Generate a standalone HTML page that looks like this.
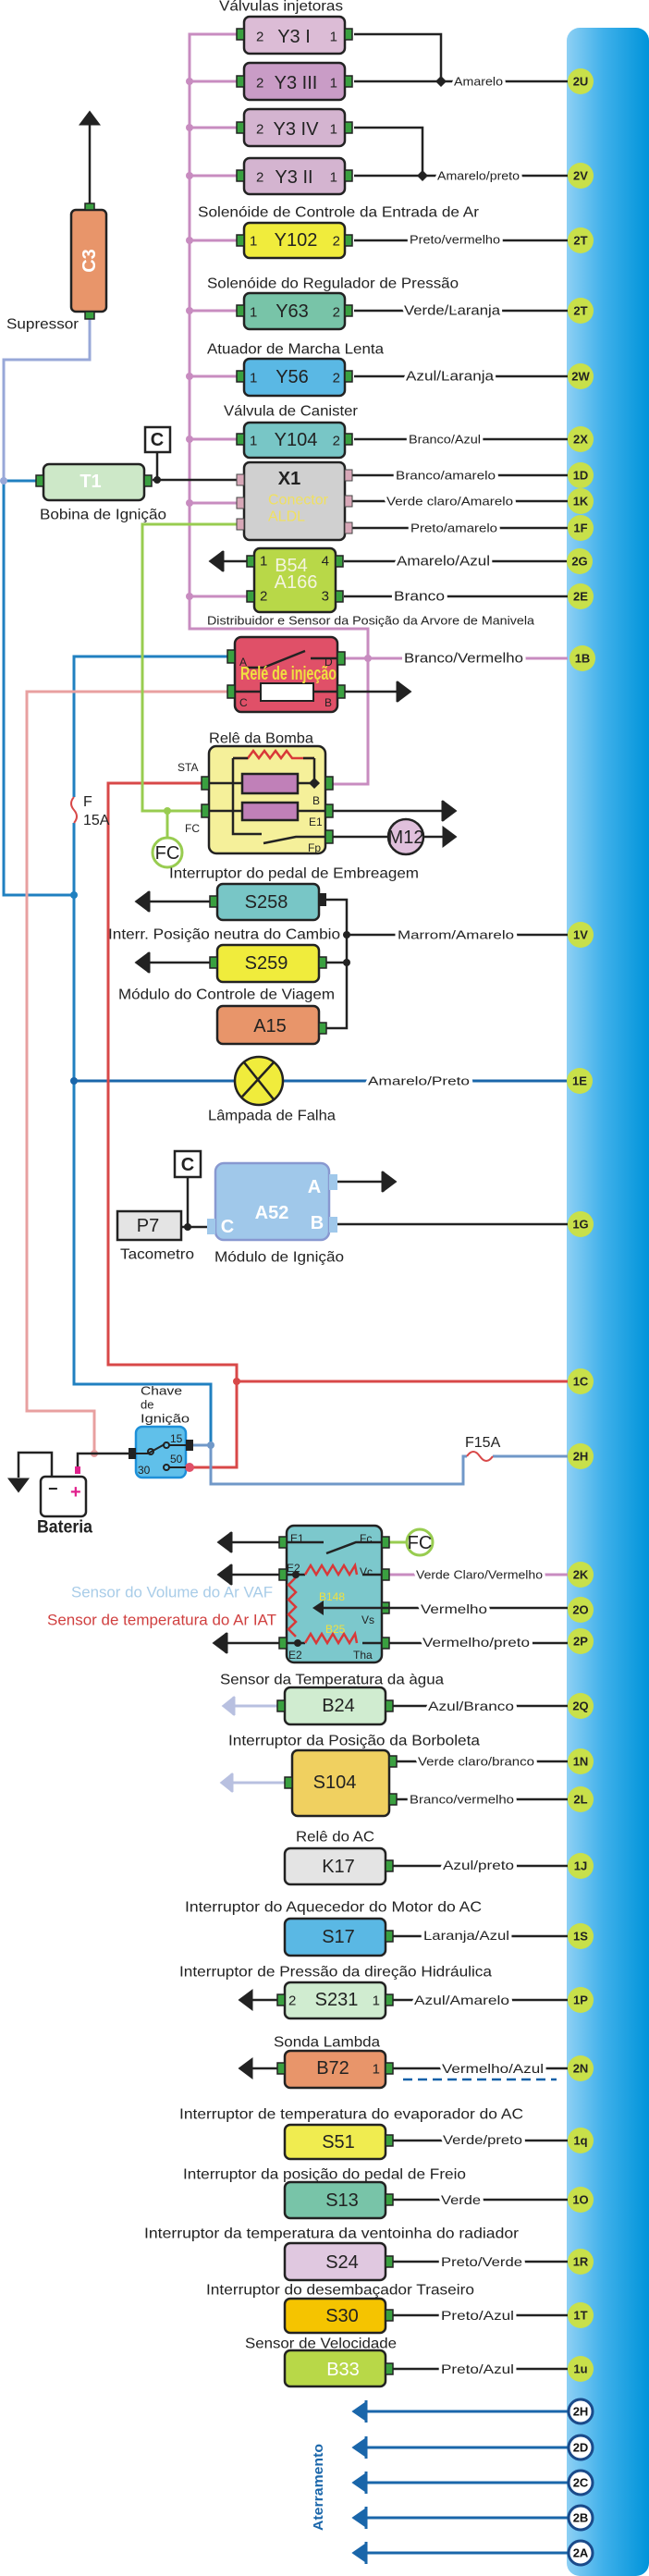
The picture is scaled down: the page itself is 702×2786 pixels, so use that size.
<!DOCTYPE html>
<html><head><meta charset="utf-8"><style>
html,body{margin:0;padding:0;background:#fff}
svg{display:block}
text{font-family:"Liberation Sans",sans-serif;fill:#222}
.t{font-size:16px}
.w{font-size:13px;stroke:#fff;stroke-width:6px;paint-order:stroke;stroke-linejoin:round}
.bx{font-size:20px;text-anchor:middle;dominant-baseline:central}
.bd{font-size:13px;font-weight:bold;text-anchor:middle;dominant-baseline:central;fill:#333}
.pn{font-size:15px;dominant-baseline:central}
.s{font-size:12px;dominant-baseline:central}
</style></head><body>
<svg width="702" height="2786" viewBox="0 0 702 2786" xmlns="http://www.w3.org/2000/svg">
<defs>
<linearGradient id="bar" x1="0" x2="1" y1="0" y2="0">
<stop offset="0" stop-color="#8ed0f4"/><stop offset="0.45" stop-color="#3fb0ea"/><stop offset="1" stop-color="#0094da"/>
</linearGradient>
</defs>
<rect x="613" y="30" width="89" height="2756" rx="14" fill="url(#bar)"/>

<!-- pink bus -->
<g stroke="#c88cc0" stroke-width="3" fill="none">
<path d="M256,37 H205 V680 H398 V848 H360"/>
<path d="M205,88 H256 M205,138 H256 M205,190 H256 M205,260 H256 M205,336 H256 M205,407 H256 M205,475 H256 M205,544 H256 M205,645 H267"/>
<path d="M373,712 H614"/>
<path d="M421,1703 H614"/>
</g>
<g fill="#c88cc0"><circle cx="205" cy="88" r="4"/><circle cx="205" cy="138" r="4"/><circle cx="205" cy="190" r="4"/><circle cx="205" cy="260" r="4"/><circle cx="205" cy="336" r="4"/><circle cx="205" cy="407" r="4"/><circle cx="205" cy="475" r="4"/><circle cx="205" cy="544" r="4"/><circle cx="205" cy="645" r="4"/><circle cx="398" cy="712" r="4"/></g>

<!-- left wiring -->
<g fill="none" stroke-width="3">
<path d="M97,345 V389 H4 V520" stroke="#98a8d8"/>
<path d="M4,520 H39 M4,520 V968 H80" stroke="#2080c0"/>
<path d="M254,710 H80 V1497 H228 V1563" stroke="#2080c0"/>
<path d="M80,1169 H614" stroke="#1a66aa"/>
<path d="M254,748 H29 V1526 H102 V1572" stroke="#e8a0a0"/>
<path d="M226,847 H117 V1476 H256 V1587 H205 M256,1494 H614" stroke="#d84848"/>
<path d="M264,567 H154 V877 H226 M181,877 V906" stroke="#98cc50"/>
<path d="M201,1563 H228 V1605 H501 V1575 H505 M533,1575 H614" stroke="#7098c8"/>
</g>
<rect x="74" y="862" width="12" height="28" fill="#fff"/>
<path d="M80,862 q-6,7 0,14 q6,7 0,14" stroke="#d84848" stroke-width="2" fill="none"/>
<text x="90" y="872" class="t" font-size="15">F</text><text x="90" y="892" class="t" font-size="15">15A</text>
<circle cx="4" cy="520" r="4" fill="#98a8d8"/>
<circle cx="80" cy="968" r="4" fill="#2080c0"/><circle cx="80" cy="1169" r="4" fill="#1a66aa"/>
<circle cx="256" cy="1494" r="4" fill="#d84848"/><circle cx="102" cy="1572" r="4" fill="#e8a0a0"/>
<circle cx="228" cy="1563" r="4" fill="#7098c8"/><circle cx="181" cy="877" r="4" fill="#98cc50"/>
<path d="M505,1575 q7,-10 14,0 q7,10 14,0" stroke="#d84848" stroke-width="2" fill="none"/>
<text x="503" y="1565" class="t" font-size="15">F15A</text>

<!-- black right wires -->
<g stroke="#222" stroke-width="2.5" fill="none">
<path d="M383,37 H477 V88 M383,88 H614"/>
<path d="M383,138 H457 V190 M383,190 H614"/>
<path d="M383,260 H614 M383,336 H614 M383,407 H614 M383,475 H614"/>
<path d="M381,514 H614 M381,542 H614 M381,571 H614"/>
<path d="M372,607 H614 M372,645 H614 M267,607 H240"/>
<path d="M165,519 H257 M170,489 V519"/>
<path d="M373,748 H430 M360,877 H480 M360,905 H420 M458,905 H480"/>
<path d="M227,975 H160 M227,1041 H160 M353,973 H375 V1112 H353 M353,1041 H375 M375,1011 H614"/>
<path d="M365,1278 H415 M365,1324 H614 M203,1273 V1327 M196,1327 H224"/>
<path d="M139,1572 H84 V1592 M56,1597 V1571 H20 V1598"/>
<path d="M302,1668 H250 M302,1703 H250 M302,1777 H245 M421,1739 H614 M421,1777 H614"/>
<path d="M425,1845 H614 M429,1905 H614 M429,1946 H614 M425,2018 H614 M425,2094 H614 M425,2163 H614 M300,2163 H272 M425,2237 H614 M300,2237 H272"/>
<path d="M425,2315 H614 M425,2379 H614 M425,2446 H614 M425,2504 H614 M425,2562 H614"/>
<path d="M97,220 V132"/>
</g>
<path d="M436,2249 H602" stroke="#1060a8" stroke-width="2.5" stroke-dasharray="10 6"/>
<path d="M421,1668 H440" stroke="#98cc50" stroke-width="3"/>
<g fill="#222"><path d="M477,82 l6,6 -6,6 -6,-6z"/><path d="M457,184 l6,6 -6,6 -6,-6z"/><circle cx="170" cy="519" r="4"/><circle cx="375" cy="1011" r="4"/><circle cx="375" cy="1041" r="4"/><circle cx="203" cy="1327" r="4"/></g>

<!-- ground arrows -->
<g fill="#222" stroke="#222" stroke-width="3">
<polygon points="228,607 240,598 240,616"/><line x1="241" y1="596" x2="241" y2="618"/>
<polygon points="443,748 431,739 431,757"/><line x1="430" y1="737" x2="430" y2="759"/>
<polygon points="492,877 480,868 480,886"/><line x1="479" y1="866" x2="479" y2="888"/>
<polygon points="492,905 480,896 480,914"/>
<polygon points="148,975 160,966 160,984"/><line x1="161" y1="964" x2="161" y2="986"/>
<polygon points="148,1041 160,1032 160,1050"/><line x1="161" y1="1030" x2="161" y2="1052"/>
<polygon points="427,1278 415,1269 415,1287"/><line x1="414" y1="1267" x2="414" y2="1289"/>
<polygon points="20,1612 11,1600 29,1600"/>
<polygon points="237,1668 249,1659 249,1677"/><line x1="250" y1="1657" x2="250" y2="1679"/>
<polygon points="237,1703 249,1694 249,1712"/><line x1="250" y1="1692" x2="250" y2="1714"/>
<polygon points="232,1777 244,1768 244,1786"/><line x1="245" y1="1766" x2="245" y2="1788"/>
<polygon points="260,2163 272,2154 272,2172"/><polygon points="260,2237 272,2228 272,2246"/>
<polygon points="97,122 88,134 106,134"/>
</g>
<g fill="#b8c0e0" stroke="#b8c0e0" stroke-width="3">
<line x1="300" y1="1845" x2="250" y2="1845"/><polygon points="242,1845 252,1837 252,1853"/><line x1="253" y1="1835" x2="253" y2="1855"/>
<line x1="308" y1="1928" x2="248" y2="1928"/><polygon points="240,1928 250,1920 250,1936"/><line x1="251" y1="1918" x2="251" y2="1938"/>
</g>

<!-- ground lines bottom -->
<g stroke="#1a66aa" stroke-width="3" fill="#1a66aa">
<line x1="395" y1="2608" x2="614" y2="2608"/><polygon points="383,2608 396,2599 396,2617"/><line x1="396" y1="2596" x2="396" y2="2620"/>
<line x1="395" y1="2647" x2="614" y2="2647"/><polygon points="383,2647 396,2638 396,2656"/><line x1="396" y1="2635" x2="396" y2="2659"/>
<line x1="395" y1="2685" x2="614" y2="2685"/><polygon points="383,2685 396,2676 396,2694"/><line x1="396" y1="2673" x2="396" y2="2697"/>
<line x1="395" y1="2723" x2="614" y2="2723"/><polygon points="383,2723 396,2714 396,2732"/><line x1="396" y1="2711" x2="396" y2="2735"/>
<line x1="395" y1="2761" x2="614" y2="2761"/><polygon points="383,2761 396,2752 396,2770"/><line x1="396" y1="2749" x2="396" y2="2773"/>
</g>
<text transform="translate(349,2690) rotate(-90)" text-anchor="middle" font-size="15" font-weight="bold" style="fill:#1a66aa" textLength="94" lengthAdjust="spacingAndGlyphs">Aterramento</text>

<!-- boxes -->
<g stroke="#222" stroke-width="2.5">
<rect x="264" y="18" width="109" height="40" rx="6" fill="#dcbcd6"/>
<rect x="264" y="68" width="109" height="40" rx="6" fill="#c99cc6"/>
<rect x="264" y="118" width="109" height="40" rx="6" fill="#d4b4d0"/>
<rect x="264" y="171" width="109" height="39" rx="6" fill="#d4b4d0"/>
<rect x="264" y="241" width="109" height="38" rx="6" fill="#f0ec3c"/>
<rect x="264" y="317" width="109" height="39" rx="6" fill="#78c4a8"/>
<rect x="264" y="388" width="109" height="40" rx="6" fill="#5ab8e4"/>
<rect x="264" y="457" width="109" height="38" rx="6" fill="#78c6c6"/>
<rect x="77" y="227" width="38" height="110" rx="5" fill="#e8956a"/>
<rect x="47" y="502" width="109" height="39" rx="6" fill="#cde8c8"/>
<rect x="157" y="462" width="27" height="27" fill="#fff"/>
<rect x="264" y="500" width="109" height="84" rx="6" fill="#d0d0d0"/>
<rect x="275" y="593" width="88" height="69" rx="6" fill="#b8d848"/>
<rect x="254" y="689" width="111" height="81" rx="7" fill="#e05068"/>
<rect x="226" y="807" width="126" height="116" rx="8" fill="#f5f09a"/>
<circle cx="439" cy="905" r="19" fill="#e0c0dc"/>
<rect x="235" y="956" width="110" height="39" rx="6" fill="#78c6c6"/>
<rect x="235" y="1022" width="110" height="40" rx="6" fill="#f0ec3c"/>
<rect x="235" y="1088" width="110" height="41" rx="6" fill="#e8956a"/>
<ellipse cx="280" cy="1169" rx="26" ry="26" fill="#f0ec3c"/>
<rect x="189" y="1245" width="28" height="28" fill="#fff"/>
<rect x="127" y="1310" width="69" height="31" fill="#e4e4e4"/>
<rect x="44" y="1597" width="49" height="43" rx="5" fill="#fff"/>
<rect x="310" y="1650" width="103" height="148" rx="8" fill="#7cc8cc"/>
<rect x="308" y="1825" width="109" height="40" rx="6" fill="#d0ecd0"/>
<rect x="316" y="1893" width="105" height="71" rx="6" fill="#f0d060"/>
<rect x="308" y="1999" width="109" height="39" rx="6" fill="#e4e4e4"/>
<rect x="308" y="2075" width="109" height="40" rx="6" fill="#5ab8e4"/>
<rect x="308" y="2144" width="109" height="39" rx="6" fill="#d0ecd0"/>
<rect x="308" y="2218" width="109" height="40" rx="6" fill="#e8956a"/>
<rect x="308" y="2298" width="109" height="37" rx="6" fill="#f0ec50"/>
<rect x="308" y="2360" width="109" height="39" rx="6" fill="#78c4a8"/>
<rect x="308" y="2426" width="109" height="40" rx="6" fill="#e0c8e0"/>
<rect x="308" y="2486" width="109" height="37" rx="6" fill="#f5c400"/>
<rect x="308" y="2542" width="109" height="39" rx="6" fill="#b8d848"/>
</g>
<rect x="233" y="1258" width="123" height="83" rx="9" fill="#a0c8ea" stroke="#8898d0" stroke-width="2.5"/>
<g fill="#a0c8ea"><rect x="356" y="1270" width="9" height="17"/><rect x="356" y="1316" width="9" height="17"/><rect x="224" y="1318" width="9" height="17"/></g>
<rect x="147" y="1543" width="54" height="55" rx="7" fill="#60c0ea" stroke="#1e90d8" stroke-width="2.5"/>
<circle cx="454" cy="1668" r="14" fill="#fff" stroke="#98cc50" stroke-width="3"/>
<circle cx="181" cy="922" r="16" fill="#fff" stroke="#98cc50" stroke-width="3"/>

<!-- green pins -->
<g fill="#3aa040" stroke="#222" stroke-width="1.5">
<rect x="256" y="31" width="8" height="12"/><rect x="373" y="31" width="8" height="12"/>
<rect x="256" y="82" width="8" height="12"/><rect x="373" y="82" width="8" height="12"/>
<rect x="256" y="132" width="8" height="12"/><rect x="373" y="132" width="8" height="12"/>
<rect x="256" y="184" width="8" height="12"/><rect x="373" y="184" width="8" height="12"/>
<rect x="256" y="254" width="8" height="12"/><rect x="373" y="254" width="8" height="12"/>
<rect x="256" y="330" width="8" height="12"/><rect x="373" y="330" width="8" height="12"/>
<rect x="256" y="401" width="8" height="12"/><rect x="373" y="401" width="8" height="12"/>
<rect x="256" y="469" width="8" height="12"/><rect x="373" y="469" width="8" height="12"/>
<rect x="92" y="220" width="10" height="7"/><rect x="92" y="337" width="10" height="8"/>
<rect x="39" y="514" width="8" height="12"/><rect x="156" y="514" width="8" height="12"/>
<rect x="267" y="601" width="8" height="12"/><rect x="267" y="639" width="8" height="12"/><rect x="363" y="601" width="8" height="12"/><rect x="363" y="639" width="8" height="12"/>
<rect x="246" y="703" width="8" height="14"/><rect x="246" y="741" width="8" height="14"/><rect x="365" y="705" width="8" height="14"/><rect x="365" y="741" width="8" height="14"/>
<rect x="218" y="840" width="8" height="14"/><rect x="218" y="870" width="8" height="14"/><rect x="352" y="840" width="8" height="14"/><rect x="352" y="870" width="8" height="14"/><rect x="352" y="898" width="8" height="14"/>
<rect x="227" y="969" width="8" height="12"/><rect x="227" y="1035" width="8" height="12"/><rect x="345" y="1035" width="8" height="12"/><rect x="345" y="1106" width="8" height="12"/>
<rect x="302" y="1662" width="8" height="12"/><rect x="302" y="1697" width="8" height="12"/><rect x="302" y="1771" width="8" height="12"/>
<rect x="413" y="1662" width="8" height="12"/><rect x="413" y="1697" width="8" height="12"/><rect x="413" y="1733" width="8" height="12"/><rect x="413" y="1771" width="8" height="12"/>
<rect x="300" y="1839" width="8" height="12"/><rect x="417" y="1839" width="8" height="12"/>
<rect x="308" y="1922" width="8" height="12"/><rect x="421" y="1899" width="8" height="12"/><rect x="421" y="1940" width="8" height="12"/>
<rect x="417" y="2012" width="8" height="12"/><rect x="417" y="2088" width="8" height="12"/>
<rect x="300" y="2157" width="8" height="12"/><rect x="417" y="2157" width="8" height="12"/>
<rect x="300" y="2231" width="8" height="12"/><rect x="417" y="2231" width="8" height="12"/>
<rect x="417" y="2309" width="8" height="12"/><rect x="417" y="2373" width="8" height="12"/><rect x="417" y="2440" width="8" height="12"/><rect x="417" y="2498" width="8" height="12"/><rect x="417" y="2556" width="8" height="12"/>
</g>
<g fill="#222"><rect x="345" y="966" width="8" height="14"/><rect x="139" y="1566" width="8" height="12"/><rect x="201" y="1557" width="8" height="12"/></g>
<circle cx="205" cy="1587" r="5" fill="#e05068"/>
<g fill="#d8a8b8" stroke="#444" stroke-width="1"><rect x="256" y="513" width="8" height="12"/><rect x="256" y="538" width="8" height="12"/><rect x="256" y="561" width="8" height="12"/><rect x="373" y="508" width="8" height="12"/><rect x="373" y="536" width="8" height="12"/><rect x="373" y="565" width="8" height="12"/></g>

<!-- relay internals -->
<g stroke="#222" stroke-width="2.5" fill="none">
<path d="M262,722 H285 L330,704 M336,712 H365"/>
<path d="M254,748 H282 M339,748 H365"/>
<path d="M252,820 V902 H283 M285,912 L320,905 H352"/>
<path d="M226,847 H345 M226,877 H352 M340,820 V847"/>
</g>
<rect x="282" y="739" width="57" height="19" fill="#fff" stroke="#222" stroke-width="2"/>
<path d="M252,820 H268 l6,-8 6,8 6,-8 6,8 6,-8 6,8 6,-8 6,8 H340" stroke="#d83838" stroke-width="2.5" fill="none"/>
<path d="M252,820 H268" stroke="#222" stroke-width="2.5"/>
<path d="M328,820 H340" stroke="#222" stroke-width="2.5"/>
<g fill="#c080b8" stroke="#222" stroke-width="2.5"><rect x="262" y="837" width="60" height="21"/><rect x="262" y="868" width="60" height="19"/></g>
<path d="M340,841 l6,6 -6,6 -6,-6z" fill="#222"/>
<!-- B148 internals -->
<g stroke="#222" stroke-width="2.5" fill="none">
<path d="M310,1668 H350 M353,1680 L385,1668 H413"/>
<path d="M310,1703 H330 M392,1703 H413 M310,1777 H330 M392,1777 H413 M421,1739 H345"/>
</g>
<polygon points="338,1739 350,1731 350,1747" fill="#222"/>
<g stroke="#d83838" stroke-width="2.5" fill="none">
<path d="M330,1703 l6,-10 6,10 6,-10 6,10 6,-10 6,10 6,-10 6,10 6,-10 2,10"/>
<path d="M320,1706 l-8,8 8,8 -8,8 8,8 -8,8 8,8 -8,8 8,8"/>
<path d="M330,1777 l6,-10 6,10 6,-10 6,10 6,-10 6,10 6,-10 6,10 6,-10 2,10"/>
</g>
<circle cx="320" cy="1703" r="4" fill="#222"/><circle cx="322" cy="1777" r="4" fill="#222"/>
<!-- lamp X -->
<path d="M264,1149 L296,1189 M296,1149 L262,1186" stroke="#222" stroke-width="2.5"/>
<!-- ignition switch -->
<g stroke="#222" stroke-width="2" fill="none">
<path d="M147,1572 H160 L178,1562 M183,1563 H201 M183,1587 H201"/>
<circle cx="180" cy="1563" r="3"/><circle cx="180" cy="1587" r="3"/><circle cx="163" cy="1570" r="3"/>
</g>
<!-- battery -->
<rect x="81" y="1586" width="6" height="8" fill="#e0208c"/>
<text x="52" y="1616" font-size="18" font-weight="bold">−</text>
<text x="76" y="1620" font-size="20" font-weight="bold" style="fill:#e0208c">+</text>

<!-- box texts -->
<text x="277" y="40" class="pn">2</text><text x="365" y="40" class="pn" text-anchor="end">1</text><text x="318" y="40" class="bx">Y3 I</text>
<text x="277" y="90" class="pn">2</text><text x="365" y="90" class="pn" text-anchor="end">1</text><text x="320" y="90" class="bx">Y3 III</text>
<text x="277" y="140" class="pn">2</text><text x="365" y="140" class="pn" text-anchor="end">1</text><text x="320" y="140" class="bx">Y3 IV</text>
<text x="277" y="192" class="pn">2</text><text x="365" y="192" class="pn" text-anchor="end">1</text><text x="318" y="192" class="bx">Y3 II</text>
<text x="270" y="261" class="pn" font-size="18">1</text><text x="368" y="261" class="pn" text-anchor="end" font-size="18">2</text><text x="320" y="260" class="bx">Y102</text>
<text x="270" y="338" class="pn" font-size="18">1</text><text x="368" y="338" class="pn" text-anchor="end" font-size="18">2</text><text x="316" y="337" class="bx">Y63</text>
<text x="270" y="409" class="pn" font-size="18">1</text><text x="368" y="409" class="pn" text-anchor="end" font-size="18">2</text><text x="316" y="408" class="bx">Y56</text>
<text x="270" y="477" class="pn" font-size="18">1</text><text x="368" y="477" class="pn" text-anchor="end" font-size="18">2</text><text x="320" y="476" class="bx">Y104</text>
<text transform="translate(97,282) rotate(-90)" class="bx" font-weight="bold" style="fill:#fff" font-size="18">C3</text>
<text x="98" y="521" class="bx" font-weight="bold" style="fill:#fff">T1</text>
<text x="170" y="476" class="bx" font-weight="bold" font-size="18">C</text>
<text x="313" y="518" class="bx" font-weight="bold">X1</text>
<text x="290" y="541" font-size="16" style="fill:#f0e060" dominant-baseline="central">Conector</text>
<text x="290" y="559" font-size="16" style="fill:#f0e060" dominant-baseline="central">ALDL</text>
<text x="281" y="607" class="pn" font-size="16">1</text><text x="281" y="645" class="pn" font-size="16">2</text><text x="356" y="607" class="pn" font-size="16" text-anchor="end">4</text><text x="356" y="645" class="pn" font-size="16" text-anchor="end">3</text>
<text x="315" y="612" class="bx" font-size="17" style="fill:#f4f4e0">B54</text><text x="320" y="630" class="bx" font-size="17" style="fill:#f4f4e0">A166</text>
<text x="259" y="716" class="s" font-size="13">A</text><text x="351" y="716" class="s" font-size="13">D</text><text x="259" y="760" class="s" font-size="13">C</text><text x="351" y="760" class="s" font-size="13">B</text>
<text x="312" y="729" class="bx" font-size="13" font-weight="bold" style="fill:#f0e040" textLength="104" lengthAdjust="spacingAndGlyphs">Relé de injeção</text>
<text x="192" y="830" class="s" font-size="14">STA</text><text x="200" y="896" class="s" font-size="14">FC</text>
<text x="338" y="866" class="s" font-size="14">B</text><text x="334" y="889" class="s" font-size="13">E1</text><text x="333" y="917" class="s" font-size="13">Fp</text>
<text x="439" y="906" class="bx" font-size="15">M12</text>
<text x="181" y="923" class="bx" font-size="14">FC</text>
<text x="288" y="976" class="bx">S258</text><text x="288" y="1042" class="bx">S259</text><text x="292" y="1110" class="bx">A15</text>
<text x="203" y="1260" class="bx" font-weight="bold" font-size="18">C</text>
<text x="160" y="1326" class="bx" font-size="16">P7</text>
<text x="294" y="1312" class="bx" font-weight="bold" font-size="28" style="fill:#fff">A52</text>
<text x="340" y="1284" class="bx" font-weight="bold" font-size="16" style="fill:#fff">A</text>
<text x="343" y="1323" class="bx" font-weight="bold" font-size="16" style="fill:#fff">B</text>
<text x="246" y="1327" class="bx" font-weight="bold" font-size="16" style="fill:#fff">C</text>
<text x="184" y="1556" class="s" font-size="11">15</text><text x="184" y="1578" class="s" font-size="11">50</text><text x="149" y="1590" class="s" font-size="11">30</text>
<text x="314" y="1664" class="s" font-size="14">E1</text><text x="389" y="1664" class="s" font-size="14">Fc</text><text x="310" y="1696" class="s" font-size="14">E2</text><text x="389" y="1700" class="s" font-size="14">Vc</text>
<text x="345" y="1727" class="s" font-size="15" style="fill:#f0e040">B148</text><text x="391" y="1752" class="s" font-size="14">Vs</text><text x="352" y="1762" class="s" font-size="15" style="fill:#f0e040">B25</text>
<text x="312" y="1790" class="s" font-size="14">E2</text><text x="382" y="1790" class="s" font-size="14">Tha</text>
<text x="454" y="1669" class="bx" font-size="13">FC</text>
<text x="366" y="1845" class="bx">B24</text><text x="362" y="1928" class="bx">S104</text><text x="366" y="2019" class="bx">K17</text><text x="366" y="2095" class="bx">S17</text>
<text x="312" y="2164" class="pn" font-size="17">2</text><text x="411" y="2164" class="pn" font-size="17" text-anchor="end">1</text><text x="364" y="2163" class="bx">S231</text>
<text x="411" y="2238" class="pn" font-size="17" text-anchor="end">1</text><text x="360" y="2237" class="bx">B72</text>
<text x="366" y="2317" class="bx">S51</text><text x="370" y="2380" class="bx">S13</text><text x="370" y="2447" class="bx">S24</text><text x="370" y="2505" class="bx">S30</text><text x="371" y="2563" class="bx" style="fill:#fff">B33</text>

<!-- titles -->
<g class="t" dominant-baseline="central">
<text x="237" y="7" textLength="134" lengthAdjust="spacingAndGlyphs">Válvulas injetoras</text>
<text x="214" y="230" textLength="304" lengthAdjust="spacingAndGlyphs">Solenóide  de Controle da Entrada de Ar</text>
<text x="224" y="307" textLength="272" lengthAdjust="spacingAndGlyphs">Solenóide do Regulador de Pressão</text>
<text x="224" y="378" textLength="191" lengthAdjust="spacingAndGlyphs">Atuador de Marcha Lenta</text>
<text x="242" y="445" textLength="145" lengthAdjust="spacingAndGlyphs">Válvula de Canister</text>
<text x="7" y="351" textLength="78" lengthAdjust="spacingAndGlyphs">Supressor</text>
<text x="43" y="557" textLength="137" lengthAdjust="spacingAndGlyphs">Bobina de Ignição</text>
<text x="224" y="671" font-size="13" textLength="354" lengthAdjust="spacingAndGlyphs">Distribuidor e Sensor da Posição da Arvore de Manivela</text>
<text x="226" y="799" textLength="113" lengthAdjust="spacingAndGlyphs">Relê da Bomba</text>
<text x="183" y="945" textLength="270" lengthAdjust="spacingAndGlyphs">Interruptor do pedal de Embreagem</text>
<text x="117" y="1011" textLength="251" lengthAdjust="spacingAndGlyphs">Interr. Posição neutra do Cambio</text>
<text x="128" y="1076" textLength="234" lengthAdjust="spacingAndGlyphs">Módulo do Controle de Viagem</text>
<text x="225" y="1207" textLength="138" lengthAdjust="spacingAndGlyphs">Lâmpada de Falha</text>
<text x="130" y="1357" textLength="80" lengthAdjust="spacingAndGlyphs">Tacometro</text>
<text x="232" y="1360" textLength="140" lengthAdjust="spacingAndGlyphs">Módulo de Ignição</text>
<text x="152" y="1504" font-size="13" textLength="45" lengthAdjust="spacingAndGlyphs">Chave</text>
<text x="152" y="1519" font-size="13">de</text>
<text x="152" y="1534" font-size="13" textLength="53" lengthAdjust="spacingAndGlyphs">Ignição</text>
<text x="40" y="1652" font-size="19" font-weight="bold" textLength="60" lengthAdjust="spacingAndGlyphs">Bateria</text>
<text x="77" y="1722" font-size="17" style="fill:#a8cce8" textLength="218" lengthAdjust="spacingAndGlyphs">Sensor do Volume do Ar VAF</text>
<text x="51" y="1752" font-size="17" style="fill:#d04040" textLength="248" lengthAdjust="spacingAndGlyphs">Sensor de temperatura do Ar IAT</text>
<text x="238" y="1817" textLength="242" lengthAdjust="spacingAndGlyphs">Sensor da Temperatura da àgua</text>
<text x="247" y="1883" textLength="272" lengthAdjust="spacingAndGlyphs">Interruptor da Posição da Borboleta</text>
<text x="320" y="1987" textLength="85" lengthAdjust="spacingAndGlyphs">Relê do AC</text>
<text x="200" y="2063" textLength="321" lengthAdjust="spacingAndGlyphs">Interruptor do Aquecedor  do Motor do AC</text>
<text x="194" y="2133" textLength="338" lengthAdjust="spacingAndGlyphs">Interruptor de Pressão da direção Hidráulica</text>
<text x="296" y="2209" textLength="115" lengthAdjust="spacingAndGlyphs">Sonda Lambda</text>
<text x="194" y="2287" textLength="372" lengthAdjust="spacingAndGlyphs">Interruptor  de temperatura do evaporador do AC</text>
<text x="198" y="2352" textLength="306" lengthAdjust="spacingAndGlyphs">Interruptor da posição do pedal de Freio</text>
<text x="156" y="2416" textLength="405" lengthAdjust="spacingAndGlyphs">Interruptor  da temperatura  da ventoinha do radiador</text>
<text x="223" y="2477" textLength="290" lengthAdjust="spacingAndGlyphs">Interruptor do desembaçador Traseiro</text>
<text x="265" y="2535" textLength="164" lengthAdjust="spacingAndGlyphs">Sensor de Velocidade</text>
</g>

<!-- wire labels -->
<g class="w" dominant-baseline="central">
<text x="491" y="88" textLength="53" lengthAdjust="spacingAndGlyphs">Amarelo</text>
<text x="473" y="190" textLength="89" lengthAdjust="spacingAndGlyphs">Amarelo/preto</text>
<text x="443" y="259" textLength="98" lengthAdjust="spacingAndGlyphs">Preto/vermelho</text>
<text x="437" y="336" font-size="15" textLength="104" lengthAdjust="spacingAndGlyphs">Verde/Laranja</text>
<text x="439" y="407" font-size="15" textLength="95" lengthAdjust="spacingAndGlyphs">Azul/Laranja</text>
<text x="442" y="475" textLength="78" lengthAdjust="spacingAndGlyphs">Branco/Azul</text>
<text x="428" y="514" textLength="108" lengthAdjust="spacingAndGlyphs">Branco/amarelo</text>
<text x="418" y="542" textLength="137" lengthAdjust="spacingAndGlyphs">Verde claro/Amarelo</text>
<text x="444" y="571" textLength="94" lengthAdjust="spacingAndGlyphs">Preto/amarelo</text>
<text x="429" y="607" font-size="15" textLength="101" lengthAdjust="spacingAndGlyphs">Amarelo/Azul</text>
<text x="426" y="645" font-size="15" textLength="55" lengthAdjust="spacingAndGlyphs">Branco</text>
<text x="437" y="712" font-size="15" textLength="129" lengthAdjust="spacingAndGlyphs">Branco/Vermelho</text>
<text x="430" y="1011" textLength="126" lengthAdjust="spacingAndGlyphs">Marrom/Amarelo</text>
<text x="398" y="1169" textLength="110" lengthAdjust="spacingAndGlyphs">Amarelo/Preto</text>
<text x="450" y="1703" textLength="137" lengthAdjust="spacingAndGlyphs">Verde Claro/Vermelho</text>
<text x="455" y="1740" font-size="14" textLength="72" lengthAdjust="spacingAndGlyphs">Vermelho</text>
<text x="457" y="1776" font-size="14" textLength="116" lengthAdjust="spacingAndGlyphs">Vermelho/preto</text>
<text x="463" y="1845" font-size="14" textLength="93" lengthAdjust="spacingAndGlyphs">Azul/Branco</text>
<text x="452" y="1905" textLength="126" lengthAdjust="spacingAndGlyphs">Verde claro/branco</text>
<text x="443" y="1946" textLength="113" lengthAdjust="spacingAndGlyphs">Branco/vermelho</text>
<text x="479" y="2017" font-size="14" textLength="77" lengthAdjust="spacingAndGlyphs">Azul/preto</text>
<text x="458" y="2093" font-size="14" textLength="93" lengthAdjust="spacingAndGlyphs">Laranja/Azul</text>
<text x="448" y="2163" font-size="14" textLength="103" lengthAdjust="spacingAndGlyphs">Azul/Amarelo</text>
<text x="478" y="2237" font-size="14" textLength="110" lengthAdjust="spacingAndGlyphs">Vermelho/Azul</text>
<text x="479" y="2314" font-size="14" textLength="86" lengthAdjust="spacingAndGlyphs">Verde/preto</text>
<text x="477" y="2379" font-size="14" textLength="43" lengthAdjust="spacingAndGlyphs">Verde</text>
<text x="477" y="2446" font-size="14" textLength="88" lengthAdjust="spacingAndGlyphs">Preto/Verde</text>
<text x="477" y="2504" font-size="14" textLength="79" lengthAdjust="spacingAndGlyphs">Preto/Azul</text>
<text x="477" y="2562" font-size="14" textLength="79" lengthAdjust="spacingAndGlyphs">Preto/Azul</text>
</g>

<!-- badges -->
<g fill="#c8e04a">
<circle cx="628" cy="88" r="14"/><circle cx="628" cy="190" r="14"/><circle cx="628" cy="260" r="14"/><circle cx="628" cy="336" r="14"/><circle cx="628" cy="407" r="14"/><circle cx="628" cy="475" r="14"/>
<circle cx="628" cy="514" r="14"/><circle cx="628" cy="542" r="14"/><circle cx="628" cy="571" r="14"/><circle cx="627" cy="607" r="14"/><circle cx="628" cy="645" r="14"/><circle cx="630" cy="712" r="14"/>
<circle cx="628" cy="1011" r="14"/><circle cx="627" cy="1169" r="14"/><circle cx="628" cy="1324" r="14"/><circle cx="628" cy="1494" r="14"/><circle cx="628" cy="1575" r="14"/>
<circle cx="628" cy="1703" r="14"/><circle cx="628" cy="1741" r="14"/><circle cx="628" cy="1775" r="14"/><circle cx="628" cy="1845" r="14"/><circle cx="628" cy="1905" r="14"/><circle cx="628" cy="1946" r="14"/>
<circle cx="628" cy="2018" r="14"/><circle cx="628" cy="2094" r="14"/><circle cx="628" cy="2163" r="14"/><circle cx="628" cy="2237" r="14"/><circle cx="628" cy="2315" r="14"/><circle cx="628" cy="2379" r="14"/>
<circle cx="628" cy="2446" r="14"/><circle cx="628" cy="2504" r="14"/><circle cx="628" cy="2562" r="14"/>
</g>
<g fill="#fff" stroke="#1a4a8a" stroke-width="3">
<circle cx="628" cy="2608" r="13"/><circle cx="628" cy="2647" r="13"/><circle cx="628" cy="2685" r="13"/><circle cx="628" cy="2723" r="13"/><circle cx="628" cy="2761" r="13"/>
</g>
<g class="bd">
<text x="628" y="88">2U</text><text x="628" y="190">2V</text><text x="628" y="260">2T</text><text x="628" y="336">2T</text><text x="628" y="407">2W</text><text x="628" y="475">2X</text>
<text x="628" y="514">1D</text><text x="628" y="542">1K</text><text x="628" y="571">1F</text><text x="627" y="607">2G</text><text x="628" y="645">2E</text><text x="630" y="712">1B</text>
<text x="628" y="1011">1V</text><text x="627" y="1169">1E</text><text x="628" y="1324">1G</text><text x="628" y="1494">1C</text><text x="628" y="1575">2H</text>
<text x="628" y="1703">2K</text><text x="628" y="1741">2O</text><text x="628" y="1775">2P</text><text x="628" y="1845">2Q</text><text x="628" y="1905">1N</text><text x="628" y="1946">2L</text>
<text x="628" y="2018">1J</text><text x="628" y="2094">1S</text><text x="628" y="2163">1P</text><text x="628" y="2237">2N</text><text x="628" y="2315">1q</text><text x="628" y="2379">1O</text>
<text x="628" y="2446">1R</text><text x="628" y="2504">1T</text><text x="628" y="2562">1u</text>
<text x="628" y="2608" style="fill:#111">2H</text><text x="628" y="2647" style="fill:#111">2D</text><text x="628" y="2685" style="fill:#111">2C</text><text x="628" y="2723" style="fill:#111">2B</text><text x="628" y="2761" style="fill:#111">2A</text>
</g>
</svg>
</body></html>
